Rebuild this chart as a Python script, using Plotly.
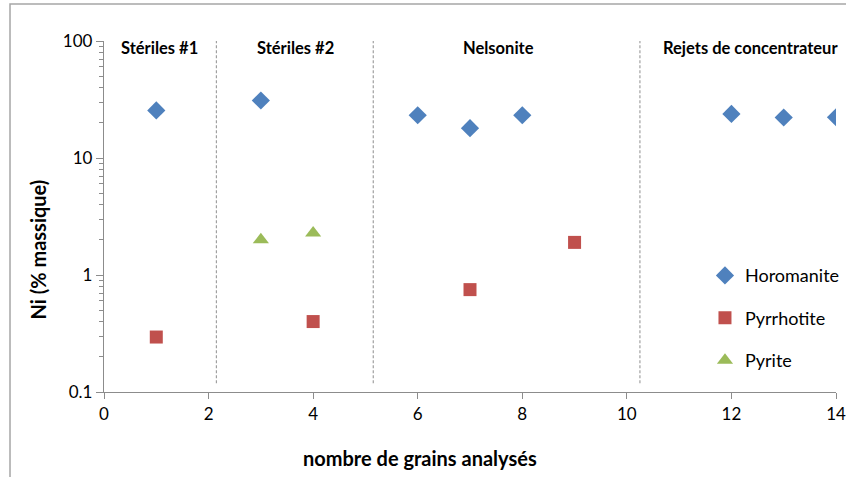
import plotly.graph_objects as go

# Ni content per analysed grain, grouped by sample
horomanite_x = [1, 3, 6, 7, 8, 12, 13, 14]
horomanite_y = [25.5, 31, 23.2, 18, 23.2, 23.8, 22.2, 22.3]

pyrrhotite_x = [1, 4, 7, 9]
pyrrhotite_y = [0.295, 0.40, 0.75, 1.9]

pyrite_x = [3, 4]
pyrite_y = [2.0, 2.28]

# sample boundaries (x) and sample names with their label positions
boundaries = [2.15, 5.15, 10.25]
section_names = ["Stériles #1", "Stériles #2", "Nelsonite", "Rejets de concentrateur"]
section_label_x = [1.06, 3.66, 7.55, 12.36]

FONT = "Lato, Carlito, 'Open Sans', sans-serif"
AXIS_GREY = "#8c8c8c"

fig = go.Figure()
fig.add_trace(go.Scatter(
    x=horomanite_x, y=horomanite_y, mode="markers", name="Horomanite",
    legendgroup="a",
    marker=dict(symbol="diamond", size=14, color="#4F81BD"),
))
fig.add_trace(go.Scatter(
    x=pyrrhotite_x, y=pyrrhotite_y, mode="markers", name="Pyrrhotite",
    legendgroup="b",
    marker=dict(symbol="square", size=13, color="#C0504D"),
))
fig.add_trace(go.Scatter(
    x=pyrite_x, y=pyrite_y, mode="markers", name="Pyrite",
    legendgroup="c",
    marker=dict(symbol="triangle-up", size=14, color="#9BBB59"),
))

shapes = []
for b in boundaries:
    shapes.append(dict(
        type="line", xref="x", yref="paper", x0=b, x1=b, y0=0.025, y1=1.0,
        line=dict(color="#a0a0a0", width=1.2, dash="3px,2px"),
    ))
# outer chart frame
shapes.append(dict(
    type="rect", xref="paper", yref="paper",
    x0=-0.1284, x1=1.03, y0=-0.3, y1=1.1054,
    line=dict(color="#a6a6a6", width=1.5), fillcolor="rgba(0,0,0,0)",
    layer="below",
))

annotations = []
for name, lx in zip(section_names, section_label_x):
    annotations.append(dict(
        x=lx, y=0.98, xref="x", yref="paper", text=f"<b>{name}</b>",
        showarrow=False, font=dict(family=FONT, size=16.5, color="#000"),
        xanchor="center", yanchor="middle",
    ))

# axis titles, placed relative to the whole chart area
annotations.append(dict(
    x=0.4317, y=-0.188, xref="paper", yref="paper",
    text="<b>nombre de grains analysés</b>", showarrow=False,
    font=dict(family=FONT, size=20, color="#000"),
    xanchor="center", yanchor="middle",
))
annotations.append(dict(
    x=-0.0908, y=0.4046, xref="paper", yref="paper",
    text="<b>Ni (% massique)</b>", showarrow=False, textangle=-90,
    font=dict(family=FONT, size=20, color="#000"),
    xanchor="center", yanchor="middle",
))

fig.update_layout(
    width=846, height=477,
    margin=dict(l=104, r=10, t=41, b=85, autoexpand=False),
    paper_bgcolor="white", plot_bgcolor="white",
    font=dict(family=FONT, color="#000"),
    showlegend=True,
    legend=dict(
        x=0.821, y=0.384, xanchor="left", yanchor="top",
        font=dict(family=FONT, size=18, color="#000"),
        traceorder="grouped", tracegroupgap=16,
        bgcolor="rgba(0,0,0,0)", itemwidth=30,
    ),
    shapes=shapes,
    annotations=annotations,
)

fig.update_xaxes(
    range=[0, 14], tickvals=[0, 2, 4, 6, 8, 10, 12, 14],
    showgrid=False, zeroline=False,
    showline=True, linecolor=AXIS_GREY, linewidth=1.3,
    ticks="outside", ticklen=6, tickcolor=AXIS_GREY,
    tickfont=dict(family=FONT, size=17, color="#000"),
)
fig.update_yaxes(
    type="log", range=[-1, 2], tickvals=[0.1, 1, 10, 100],
    ticktext=["0.1", "1", "10", "100"],
    showgrid=False, zeroline=False,
    showline=True, linecolor=AXIS_GREY, linewidth=1.3,
    ticks="outside", ticklen=7, tickcolor=AXIS_GREY,
    minor=dict(ticks="outside", ticklen=4, tickcolor=AXIS_GREY, showgrid=False,
               dtick="D1"),
    tickfont=dict(family=FONT, size=17, color="#000"),
)

fig.write_html("out.html")
